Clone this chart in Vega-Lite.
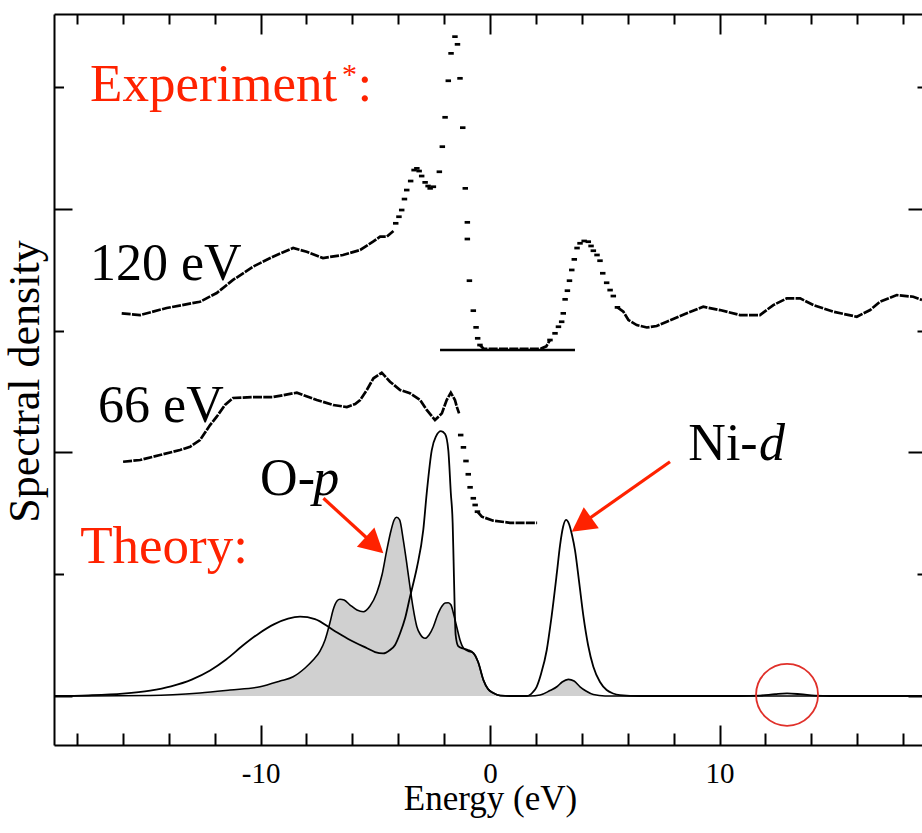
{
  "$schema": "https://vega.github.io/schema/vega-lite/v6.json",
  "width": 868,
  "height": 731,
  "autosize": {"type": "none"},
  "padding": {"left": 54, "top": 14, "right": 0, "bottom": 88},
  "background": "white",
  "config": {
    "view": {"stroke": null},
    "font": "Liberation Serif, Times New Roman, DejaVu Serif, serif",
    "axis": {"domainColor": "black", "tickColor": "black", "domainWidth": 2, "tickWidth": 2, "labelFont": "Liberation Serif, Times New Roman, DejaVu Serif, serif", "titleFont": "Liberation Serif, Times New Roman, DejaVu Serif, serif", "grid": false, "labelColor": "black", "titleColor": "black", "titleFontWeight": "normal"}
  },
  "resolve": {"axis": {"x": "independent", "y": "independent"}},
  "datasets": {
    "op": [
      {"E": -19, "S": 0}, {"E": -14.81, "S": 0.004}, {"E": -12.64, "S": 0.025}, {"E": -11.33, "S": 0.049}, {"E": -10.02, "S": 0.076}, {"E": -9.15, "S": 0.123}, {"E": -8.58, "S": 0.158}, {"E": -8.06, "S": 0.23}, {"E": -7.71, "S": 0.295}, {"E": -7.41, "S": 0.369}, {"E": -7.19, "S": 0.46}, {"E": -6.97, "S": 0.607}, {"E": -6.84, "S": 0.706}, {"E": -6.67, "S": 0.78}, {"E": -6.54, "S": 0.794}, {"E": -6.36, "S": 0.788}, {"E": -6.1, "S": 0.747}, {"E": -5.8, "S": 0.706}, {"E": -5.52, "S": 0.692}, {"E": -5.23, "S": 0.739}, {"E": -4.94, "S": 0.845}, {"E": -4.71, "S": 0.993}, {"E": -4.5, "S": 1.198}, {"E": -4.31, "S": 1.363}, {"E": -4.18, "S": 1.445}, {"E": -4.07, "S": 1.467}, {"E": -3.94, "S": 1.445}, {"E": -3.78, "S": 1.28}, {"E": -3.62, "S": 1.075}, {"E": -3.49, "S": 0.897}, {"E": -3.36, "S": 0.731}, {"E": -3.19, "S": 0.569}, {"E": -3.05, "S": 0.509}, {"E": -2.83, "S": 0.474}, {"E": -2.66, "S": 0.501}, {"E": -2.47, "S": 0.569}, {"E": -2.27, "S": 0.673}, {"E": -2.09, "S": 0.739}, {"E": -1.96, "S": 0.763}, {"E": -1.82, "S": 0.766}, {"E": -1.7, "S": 0.747}, {"E": -1.6, "S": 0.681}, {"E": -1.44, "S": 0.558}, {"E": -1.31, "S": 0.46}, {"E": -1.16, "S": 0.394}, {"E": -0.96, "S": 0.369}, {"E": -0.73, "S": 0.353}, {"E": -0.52, "S": 0.279}, {"E": -0.29, "S": 0.131}, {"E": -0.09, "S": 0.057}, {"E": 0.14, "S": 0.025}, {"E": 0.44, "S": 0.004}, {"E": 0.87, "S": 0}, {"E": 1.74, "S": 0}, {"E": 2.18, "S": 0.008}, {"E": 2.61, "S": 0.045}, {"E": 2.91, "S": 0.076}, {"E": 3.14, "S": 0.115}, {"E": 3.41, "S": 0.137}, {"E": 3.66, "S": 0.123}, {"E": 3.92, "S": 0.076}, {"E": 4.18, "S": 0.041}, {"E": 4.5, "S": 0.012}, {"E": 5.01, "S": 0}, {"E": 18.82, "S": 0}
    ],
    "tot": [
      {"E": -19, "S": 0}, {"E": -17.5, "S": 0.006}, {"E": -16.0, "S": 0.02}, {"E": -14.81, "S": 0.045}, {"E": -13.9, "S": 0.08}, {"E": -13.0, "S": 0.135}, {"E": -12.2, "S": 0.21}, {"E": -11.5, "S": 0.3}, {"E": -10.8, "S": 0.41}, {"E": -10.1, "S": 0.51}, {"E": -9.4, "S": 0.59}, {"E": -8.8, "S": 0.635}, {"E": -8.28, "S": 0.651}, {"E": -7.63, "S": 0.632}, {"E": -6.84, "S": 0.542}, {"E": -6.1, "S": 0.46}, {"E": -5.36, "S": 0.392}, {"E": -5.01, "S": 0.361}, {"E": -4.66, "S": 0.35}, {"E": -4.36, "S": 0.378}, {"E": -4.14, "S": 0.419}, {"E": -3.92, "S": 0.515}, {"E": -3.7, "S": 0.64}, {"E": -3.49, "S": 0.813}, {"E": -3.31, "S": 0.952}, {"E": -3.18, "S": 1.061}, {"E": -2.91, "S": 1.363}, {"E": -2.76, "S": 1.666}, {"E": -2.54, "S": 2.019}, {"E": -2.35, "S": 2.134}, {"E": -2.14, "S": 2.175}, {"E": -1.96, "S": 2.15}, {"E": -1.82, "S": 2.019}, {"E": -1.71, "S": 1.666}, {"E": -1.63, "S": 1.42}, {"E": -1.59, "S": 1.116}, {"E": -1.55, "S": 0.788}, {"E": -1.5, "S": 0.501}, {"E": -1.39, "S": 0.41}, {"E": -1.18, "S": 0.39}, {"E": -0.96, "S": 0.378}, {"E": -0.73, "S": 0.353}, {"E": -0.52, "S": 0.279}, {"E": -0.29, "S": 0.131}, {"E": -0.09, "S": 0.057}, {"E": 0.14, "S": 0.025}, {"E": 0.44, "S": 0.004}, {"E": 0.87, "S": 0}, {"E": 1.61, "S": 0}, {"E": 1.87, "S": 0.033}, {"E": 2.03, "S": 0.076}, {"E": 2.22, "S": 0.181}, {"E": 2.47, "S": 0.378}, {"E": 2.66, "S": 0.624}, {"E": 2.91, "S": 1.01}, {"E": 3.05, "S": 1.239}, {"E": 3.18, "S": 1.387}, {"E": 3.31, "S": 1.445}, {"E": 3.44, "S": 1.412}, {"E": 3.57, "S": 1.322}, {"E": 3.7, "S": 1.198}, {"E": 3.88, "S": 0.936}, {"E": 4.07, "S": 0.651}, {"E": 4.27, "S": 0.419}, {"E": 4.5, "S": 0.24}, {"E": 4.79, "S": 0.115}, {"E": 5.08, "S": 0.049}, {"E": 5.36, "S": 0.021}, {"E": 5.66, "S": 0.008}, {"E": 6.54, "S": 0}, {"E": 10.89, "S": 0}, {"E": 11.76, "S": 0.004}, {"E": 12.42, "S": 0.015}, {"E": 12.94, "S": 0.021}, {"E": 13.51, "S": 0.015}, {"E": 14.16, "S": 0.004}, {"E": 14.81, "S": 0}, {"E": 18.82, "S": 0}
    ],
    "exp": [
      {"seg": "a120", "E": -16.05, "S": 3.141}, {"seg": "a120", "E": -15.25, "S": 3.127}, {"seg": "a120", "E": -14.09, "S": 3.185}, {"seg": "a120", "E": -12.64, "S": 3.236}, {"seg": "a120", "E": -11.91, "S": 3.308}, {"seg": "a120", "E": -11.2, "S": 3.415}, {"seg": "a120", "E": -10.33, "S": 3.524}, {"seg": "a120", "E": -9.46, "S": 3.606}, {"seg": "a120", "E": -8.58, "S": 3.677}, {"seg": "a120", "E": -7.99, "S": 3.647}, {"seg": "a120", "E": -7.28, "S": 3.595}, {"seg": "a120", "E": -6.41, "S": 3.62}, {"seg": "a120", "E": -5.66, "S": 3.661}, {"seg": "a120", "E": -5.1, "S": 3.729}, {"seg": "a120", "E": -4.79, "S": 3.77}, {"seg": "a120", "E": -4.5, "S": 3.77}, {"seg": "a120", "E": -4.21, "S": 3.817},
      {"seg": "c120", "E": -0.44, "S": 2.881}, {"seg": "c120", "E": -0.28, "S": 2.85}, {"seg": "c120", "E": 2.2, "S": 2.85}, {"seg": "c120", "E": 2.45, "S": 2.87}, {"seg": "c120", "E": 2.61, "S": 2.922},
      {"seg": "b120", "E": 5.55, "S": 3.19}, {"seg": "b120", "E": 5.81, "S": 3.154}, {"seg": "b120", "E": 6.03, "S": 3.086}, {"seg": "b120", "E": 6.39, "S": 3.045}, {"seg": "b120", "E": 6.83, "S": 3.025}, {"seg": "b120", "E": 7.26, "S": 3.037}, {"seg": "b120", "E": 7.7, "S": 3.072}, {"seg": "b120", "E": 8.57, "S": 3.141}, {"seg": "b120", "E": 9.29, "S": 3.195}, {"seg": "b120", "E": 10.02, "S": 3.168}, {"seg": "b120", "E": 10.89, "S": 3.127}, {"seg": "b120", "E": 11.76, "S": 3.127}, {"seg": "b120", "E": 12.34, "S": 3.209}, {"seg": "b120", "E": 12.93, "S": 3.264}, {"seg": "b120", "E": 13.51, "S": 3.264}, {"seg": "b120", "E": 14.09, "S": 3.209}, {"seg": "b120", "E": 14.96, "S": 3.154}, {"seg": "b120", "E": 15.98, "S": 3.113}, {"seg": "b120", "E": 16.56, "S": 3.168}, {"seg": "b120", "E": 16.99, "S": 3.236}, {"seg": "b120", "E": 17.72, "S": 3.291}, {"seg": "b120", "E": 18.44, "S": 3.277}, {"seg": "b120", "E": 18.82, "S": 3.25},
      {"seg": "a66", "E": -15.99, "S": 1.923}, {"seg": "a66", "E": -15.25, "S": 1.937}, {"seg": "a66", "E": -14.38, "S": 1.978}, {"seg": "a66", "E": -13.51, "S": 2.019}, {"seg": "a66", "E": -13.07, "S": 2.046}, {"seg": "a66", "E": -12.64, "S": 2.101}, {"seg": "a66", "E": -12.2, "S": 2.224}, {"seg": "a66", "E": -11.91, "S": 2.293}, {"seg": "a66", "E": -11.55, "S": 2.389}, {"seg": "a66", "E": -11.2, "S": 2.446}, {"seg": "a66", "E": -10.33, "S": 2.454}, {"seg": "a66", "E": -9.46, "S": 2.454}, {"seg": "a66", "E": -8.42, "S": 2.49}, {"seg": "a66", "E": -7.55, "S": 2.43}, {"seg": "a66", "E": -6.84, "S": 2.389}, {"seg": "a66", "E": -6.24, "S": 2.372}, {"seg": "a66", "E": -5.88, "S": 2.397}, {"seg": "a66", "E": -5.66, "S": 2.43}, {"seg": "a66", "E": -5.37, "S": 2.512}, {"seg": "a66", "E": -5.08, "S": 2.608}, {"seg": "a66", "E": -4.72, "S": 2.654}, {"seg": "a66", "E": -4.36, "S": 2.58}, {"seg": "a66", "E": -3.92, "S": 2.512}, {"seg": "a66", "E": -3.49, "S": 2.485}, {"seg": "a66", "E": -3.05, "S": 2.43}, {"seg": "a66", "E": -2.76, "S": 2.348}, {"seg": "a66", "E": -2.4, "S": 2.265}, {"seg": "a66", "E": -2.1, "S": 2.32}, {"seg": "a66", "E": -1.89, "S": 2.43}, {"seg": "a66", "E": -1.71, "S": 2.49}, {"seg": "a66", "E": -1.53, "S": 2.43}, {"seg": "a66", "E": -1.45, "S": 2.375}, {"seg": "a66", "E": -1.35, "S": 2.32},
      {"seg": "c66", "E": -0.55, "S": 1.513}, {"seg": "c66", "E": -0.36, "S": 1.472}, {"seg": "c66", "E": 0.14, "S": 1.439}, {"seg": "c66", "E": 0.87, "S": 1.422}, {"seg": "c66", "E": 2.05, "S": 1.422}
    ],
    "flat": [{"E": -2.18, "S": 2.84}, {"E": 3.7, "S": 2.84}],
    "dots": [
      {"E": -4.11, "S": 3.88}, {"E": -3.97, "S": 3.934}, {"E": -3.85, "S": 3.989}, {"E": -3.73, "S": 4.079}, {"E": -3.63, "S": 4.153}, {"E": -3.46, "S": 4.227}, {"E": -3.31, "S": 4.317}, {"E": -3.19, "S": 4.331}, {"E": -3.09, "S": 4.309}, {"E": -2.98, "S": 4.268}, {"E": -2.83, "S": 4.216}, {"E": -2.7, "S": 4.186}, {"E": -2.61, "S": 4.167}, {"E": -2.47, "S": 4.18}, {"E": -2.21, "S": 4.303}, {"E": -2.08, "S": 4.509}, {"E": -1.96, "S": 4.75}, {"E": -1.82, "S": 5.05}, {"E": -1.7, "S": 5.275}, {"E": -1.53, "S": 5.412}, {"E": -1.42, "S": 5.349}, {"E": -1.31, "S": 5.07}, {"E": -1.19, "S": 4.665}, {"E": -1.08, "S": 4.167}, {"E": -0.99, "S": 3.888}, {"E": -0.99, "S": 3.751}, {"E": -0.9, "S": 3.409}, {"E": -0.73, "S": 3.163}, {"E": -0.61, "S": 3.026}, {"E": -0.54, "S": 2.936}, {"E": -0.44, "S": 2.881},
      {"E": 2.61, "S": 2.922}, {"E": 2.83, "S": 2.977}, {"E": 2.98, "S": 3.031}, {"E": 3.12, "S": 3.072}, {"E": 3.19, "S": 3.141}, {"E": 3.27, "S": 3.256}, {"E": 3.37, "S": 3.327}, {"E": 3.46, "S": 3.409}, {"E": 3.56, "S": 3.497}, {"E": 3.67, "S": 3.584}, {"E": 3.79, "S": 3.677}, {"E": 3.92, "S": 3.716}, {"E": 4.1, "S": 3.735}, {"E": 4.28, "S": 3.729}, {"E": 4.4, "S": 3.694}, {"E": 4.5, "S": 3.655}, {"E": 4.66, "S": 3.62}, {"E": 4.79, "S": 3.573}, {"E": 4.91, "S": 3.47}, {"E": 5.08, "S": 3.392}, {"E": 5.23, "S": 3.332}, {"E": 5.37, "S": 3.283}, {"E": 5.55, "S": 3.19},
      {"E": -1.28, "S": 2.142}, {"E": -1.16, "S": 2.041}, {"E": -1.05, "S": 1.929}, {"E": -0.95, "S": 1.82}, {"E": -0.87, "S": 1.713}, {"E": -0.73, "S": 1.623}, {"E": -0.65, "S": 1.568}, {"E": -0.55, "S": 1.513}
    ],
    "txt_red": [{"E": -17.43, "S": 4.88, "t": "Experiment"}, {"E": -5.78, "S": 4.88, "t": ":"}, {"E": -17.86, "S": 1.089, "t": "Theory:"}],
    "ast": [{"E": -6.45, "S": 5.02, "t": "*"}],
    "txt_black": [{"E": -17.43, "S": 3.415, "t": "120 eV"}, {"E": -17.08, "S": 2.253, "t": "66 eV"}, {"E": -10.02, "S": 1.65, "t": "O-"}, {"E": 8.64, "S": 1.937, "t": "Ni-"}],
    "txt_it": [{"E": -7.7, "S": 1.65, "t": "p"}, {"E": 11.72, "S": 1.937, "t": "d"}],
    "arrows": [
      {"E": -7.26, "S": 1.623, "E2": -5.32, "S2": 1.289, "tE": -4.65, "tS": 1.171, "ang": 132.5},
      {"E": 7.84, "S": 1.923, "E2": 4.23, "S2": 1.445, "tE": 3.56, "tS": 1.349, "ang": 234.5}
    ],
    "circ": [{"E": 12.94, "S": 0.01}]
  },
  "layer": [
    {
      "data": {"name": "op"},
      "mark": {"type": "area", "interpolate": "monotone", "color": "#d0d0d0"},
      "encoding": {
        "x": {"field": "E", "type": "quantitative", "scale": {"domain": [-19, 18.82], "nice": false, "zero": false},
              "axis": {"orient": "bottom", "values": [-10, 0, 10], "ticks": false, "domain": true, "labelFontSize": 29, "labelPadding": 14, "labelExpr": "datum.value < 0 ? '-' + abs(datum.value) : '' + datum.value", "title": "Energy (eV)", "titleFontSize": 35, "titleX": 436, "titleY": 64, "titleAlign": "center", "titleBaseline": "alphabetic"}},
        "y": {"field": "S", "type": "quantitative", "scale": {"domain": [-0.402, 5.598], "nice": false, "zero": false},
              "axis": {"orient": "left", "values": [0, 2, 4], "tickSize": -18, "labels": false, "domain": true, "title": "Spectral density", "titleFontSize": 44, "titleAngle": 270, "titleX": -16, "titleY": 367, "titleAlign": "center", "titleBaseline": "alphabetic"}}
      }
    },
    {
      "data": {"name": "op"},
      "mark": {"type": "line", "interpolate": "monotone", "color": "black", "strokeWidth": 1.6},
      "encoding": {
        "x": {"field": "E", "type": "quantitative", "scale": {"domain": [-19, 18.82], "nice": false, "zero": false},
              "axis": {"orient": "bottom", "values": [-10, 0, 10], "tickSize": -20, "labels": false, "domain": false, "title": null}},
        "y": {"field": "S", "type": "quantitative", "scale": {"domain": [-0.402, 5.598], "nice": false, "zero": false},
              "axis": {"orient": "left", "values": [1, 3, 5], "tickSize": -9.5, "labels": false, "domain": false, "title": null}}
      }
    },
    {
      "data": {"name": "tot"},
      "mark": {"type": "line", "interpolate": "monotone", "color": "black", "strokeWidth": 1.8},
      "encoding": {
        "x": {"field": "E", "type": "quantitative", "scale": {"domain": [-19, 18.82], "nice": false, "zero": false},
              "axis": {"orient": "bottom", "values": [-18, -16, -14, -12, -8, -6, -4, -2, 2, 4, 6, 8, 12, 14, 16, 18], "tickSize": -12, "labels": false, "domain": false, "title": null}},
        "y": {"field": "S", "type": "quantitative", "scale": {"domain": [-0.402, 5.598], "nice": false, "zero": false},
              "axis": {"orient": "right", "values": [0, 2, 4], "tickSize": -14, "labels": false, "domain": false, "title": null}}
      }
    },
    {
      "data": {"name": "exp"},
      "mark": {"type": "line", "color": "black", "strokeWidth": 2.7, "strokeDash": [9, 1.3]},
      "encoding": {
        "x": {"field": "E", "type": "quantitative", "scale": {"domain": [-19, 18.82], "nice": false, "zero": false},
              "axis": {"orient": "top", "values": [-10, 0, 10], "tickSize": -20, "labels": false, "domain": true, "title": null}},
        "y": {"field": "S", "type": "quantitative", "scale": {"domain": [-0.402, 5.598], "nice": false, "zero": false},
              "axis": {"orient": "right", "values": [1, 3, 5], "tickSize": -5, "labels": false, "domain": false, "title": null}},
        "detail": {"field": "seg", "type": "nominal"}
      }
    },
    {
      "data": {"name": "flat"},
      "mark": {"type": "line", "color": "black", "strokeWidth": 2.4},
      "encoding": {
        "x": {"field": "E", "type": "quantitative", "scale": {"domain": [-19, 18.82], "nice": false, "zero": false},
              "axis": {"orient": "top", "values": [-18, -16, -14, -12, -8, -6, -4, -2, 2, 4, 6, 8, 12, 14, 16, 18], "tickSize": -10, "labels": false, "domain": false, "title": null}},
        "y": {"field": "S", "type": "quantitative", "scale": {"domain": [-0.402, 5.598], "nice": false, "zero": false}, "axis": null}
      }
    },
    {
      "data": {"name": "dots"},
      "mark": {"type": "point", "shape": "M-1,-0.5L1,-0.5L1,0.5L-1,0.5Z", "filled": true, "color": "black", "opacity": 1, "size": 30},
      "encoding": {
        "x": {"field": "E", "type": "quantitative", "scale": {"domain": [-19, 18.82], "nice": false, "zero": false}, "axis": null},
        "y": {"field": "S", "type": "quantitative", "scale": {"domain": [-0.402, 5.598], "nice": false, "zero": false}, "axis": null}
      }
    },
    {
      "data": {"name": "txt_red"},
      "mark": {"type": "text", "align": "left", "baseline": "alphabetic", "font": "Liberation Serif, Times New Roman, DejaVu Serif, serif", "fontSize": 53, "color": "#ff2200"},
      "encoding": {
        "x": {"field": "E", "type": "quantitative", "scale": {"domain": [-19, 18.82], "nice": false, "zero": false}, "axis": null},
        "y": {"field": "S", "type": "quantitative", "scale": {"domain": [-0.402, 5.598], "nice": false, "zero": false}, "axis": null},
        "text": {"field": "t"}
      }
    },
    {
      "data": {"name": "ast"},
      "mark": {"type": "text", "align": "left", "baseline": "alphabetic", "font": "Liberation Serif, Times New Roman, DejaVu Serif, serif", "fontSize": 30, "color": "#ff2200"},
      "encoding": {
        "x": {"field": "E", "type": "quantitative", "scale": {"domain": [-19, 18.82], "nice": false, "zero": false}, "axis": null},
        "y": {"field": "S", "type": "quantitative", "scale": {"domain": [-0.402, 5.598], "nice": false, "zero": false}, "axis": null},
        "text": {"field": "t"}
      }
    },
    {
      "data": {"name": "txt_black"},
      "mark": {"type": "text", "align": "left", "baseline": "alphabetic", "font": "Liberation Serif, Times New Roman, DejaVu Serif, serif", "fontSize": 52, "color": "black"},
      "encoding": {
        "x": {"field": "E", "type": "quantitative", "scale": {"domain": [-19, 18.82], "nice": false, "zero": false}, "axis": null},
        "y": {"field": "S", "type": "quantitative", "scale": {"domain": [-0.402, 5.598], "nice": false, "zero": false}, "axis": null},
        "text": {"field": "t"}
      }
    },
    {
      "data": {"name": "txt_it"},
      "mark": {"type": "text", "align": "left", "baseline": "alphabetic", "font": "Liberation Serif, Times New Roman, DejaVu Serif, serif", "fontStyle": "italic", "fontSize": 52, "color": "black"},
      "encoding": {
        "x": {"field": "E", "type": "quantitative", "scale": {"domain": [-19, 18.82], "nice": false, "zero": false}, "axis": null},
        "y": {"field": "S", "type": "quantitative", "scale": {"domain": [-0.402, 5.598], "nice": false, "zero": false}, "axis": null},
        "text": {"field": "t"}
      }
    },
    {
      "data": {"name": "arrows"},
      "mark": {"type": "rule", "color": "#ff2200", "strokeWidth": 3.2},
      "encoding": {
        "x": {"field": "E", "type": "quantitative", "scale": {"domain": [-19, 18.82], "nice": false, "zero": false}, "axis": null},
        "y": {"field": "S", "type": "quantitative", "scale": {"domain": [-0.402, 5.598], "nice": false, "zero": false}, "axis": null},
        "x2": {"field": "E2"},
        "y2": {"field": "S2"}
      }
    },
    {
      "data": {"name": "arrows"},
      "mark": {"type": "point", "shape": "M0,0L0.54,1L-0.54,1Z", "filled": true, "color": "#ff2200", "opacity": 1, "size": 2304},
      "encoding": {
        "x": {"field": "tE", "type": "quantitative", "scale": {"domain": [-19, 18.82], "nice": false, "zero": false}, "axis": null},
        "y": {"field": "tS", "type": "quantitative", "scale": {"domain": [-0.402, 5.598], "nice": false, "zero": false}, "axis": null},
        "angle": {"field": "ang", "type": "quantitative", "scale": null}
      }
    },
    {
      "data": {"name": "circ"},
      "mark": {"type": "point", "shape": "circle", "filled": false, "color": "#e0302a", "strokeWidth": 1.8, "opacity": 1, "size": 3844},
      "encoding": {
        "x": {"field": "E", "type": "quantitative", "scale": {"domain": [-19, 18.82], "nice": false, "zero": false}, "axis": null},
        "y": {"field": "S", "type": "quantitative", "scale": {"domain": [-0.402, 5.598], "nice": false, "zero": false}, "axis": null}
      }
    }
  ]
}
